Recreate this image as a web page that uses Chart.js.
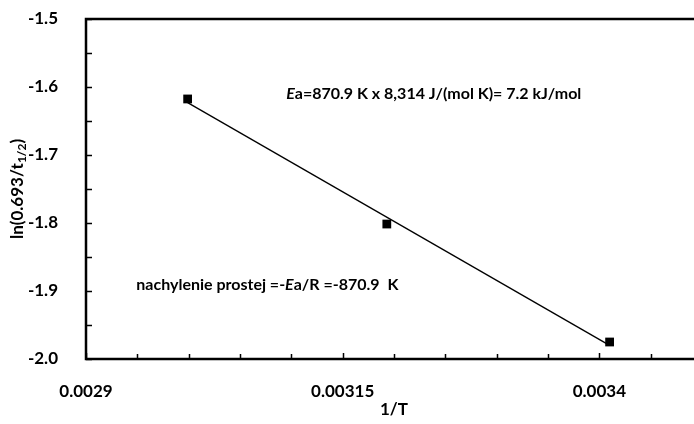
<!DOCTYPE html>
<html>
<head>
<meta charset="utf-8">
<script src="https://cdn.jsdelivr.net/npm/chart.js@4"></script>
<style>
  html, body { margin: 0; padding: 0; background: #fff; overflow: hidden; }
  #wrap { width: 712px; height: 424px; }
</style>
</head>
<body>
<div id="wrap"><canvas id="chart-arrhenius"></canvas></div>
<script>
// punkty pomiarowe: 1/T oraz ln(0.693/t1/2)
var invT = [0.002999, 0.003193, 0.003410];
var lnK = [-1.6176, -1.8015, -1.975];
// linia trendu
var trendX = [0.002999, 0.003410];
var trendY = [-1.623, -1.980];
var xTickLabels = ['0.0029', '0.00315', '0.0034'];
var yTickLabels = ['-1.5', '-1.6', '-1.7', '-1.8', '-1.9', '-2.0'];
var xTitle = '1/T';
var yTitle = ['ln(0.693/t', '1/2', ')'];
// adnotacje: [x, y] w jednostkach danych, tekst przed/po kursywie
var note1 = { x: 0.003095, y: -1.610, before: '', italic: 'E', after: 'a=870.9 K x 8,314 J/(mol K)= 7.2 kJ/mol' };
var note2 = { x: 0.002949, y: -1.891, before: 'nachylenie prostej =-', italic: 'E', after: 'a/R =-870.9  K' };

var FONT = 'Lato, "Open Sans", sans-serif';

function pairs(xs, ys) {
    return xs.map(function(x, i) { return { x: x, y: ys[i] }; });
}

function findLabel(list, v) {
    var l = list.filter(function(s) { return Math.abs(parseFloat(s) - v) < 1e-9; });
    return l.length ? l[0] : '';
}

function drawNote(ctx, n, sx, sy) {
    var px = sx.getPixelForValue(n.x), py = sy.getPixelForValue(n.y);
    ctx.save();
    ctx.fillStyle = '#000';
    ctx.textBaseline = 'middle';
    ctx.textAlign = 'left';
    ctx.font = 'bold 16px ' + FONT;
    ctx.fillText(n.before, px, py);
    px += ctx.measureText(n.before).width;
    ctx.font = 'italic bold 16px ' + FONT;
    ctx.fillText(n.italic, px, py);
    px += ctx.measureText(n.italic).width;
    ctx.font = 'bold 16px ' + FONT;
    ctx.fillText(n.after, px, py);
    ctx.restore();
}

var frame = {
    id: 'frame',
    afterDraw: function(chart) {
        var ctx = chart.ctx, a = chart.chartArea;
        var sx = chart.scales.x, sy = chart.scales.y;
        ctx.save();
        ctx.strokeStyle = '#000';
        ctx.lineWidth = 2.5;
        ctx.beginPath();
        ctx.moveTo(a.right, a.top);
        ctx.lineTo(a.left, a.top);
        ctx.lineTo(a.left, a.bottom);
        ctx.lineTo(a.right, a.bottom);
        ctx.stroke();

        // znaczniki osi (do wewnatrz)
        ctx.lineWidth = 1.5;
        ctx.beginPath();
        sx.ticks.forEach(function(t) {
            var p = Math.round(sx.getPixelForValue(t.value)) + 0.5;
            var big = findLabel(xTickLabels, t.value) !== '';
            ctx.moveTo(p, a.bottom);
            ctx.lineTo(p, a.bottom - (big ? 6 : 5));
        });
        sy.ticks.forEach(function(t) {
            var p = Math.round(sy.getPixelForValue(t.value)) + 0.5;
            ctx.moveTo(a.left, p);
            ctx.lineTo(a.left + 6, p);
        });
        ctx.stroke();

        // tytul osi X
        ctx.fillStyle = '#000';
        ctx.font = 'bold 17px ' + FONT;
        ctx.textAlign = 'center';
        ctx.textBaseline = 'middle';
        ctx.fillText(xTitle, (a.left + a.right) / 2, 410);

        // tytul osi Y z indeksem dolnym
        ctx.translate(18, (a.top + a.bottom) / 2);
        ctx.rotate(-Math.PI / 2);
        ctx.textAlign = 'left';
        var fMain = 'bold 17px ' + FONT, fSub = 'bold 12px ' + FONT;
        ctx.font = fMain;
        var w0 = ctx.measureText(yTitle[0]).width, w2 = ctx.measureText(yTitle[2]).width;
        ctx.font = fSub;
        var w1 = ctx.measureText(yTitle[1]).width;
        var x0 = -(w0 + w1 + w2) / 2;
        ctx.font = fMain;
        ctx.fillText(yTitle[0], x0, 0);
        ctx.font = fSub;
        ctx.fillText(yTitle[1], x0 + w0, 4);
        ctx.font = fMain;
        ctx.fillText(yTitle[2], x0 + w0 + w1, 0);
        ctx.restore();

        drawNote(ctx, note1, sx, sy);
        drawNote(ctx, note2, sx, sy);
    }
};

document.addEventListener('DOMContentLoaded', function() {
    var canvas = document.getElementById('chart-arrhenius');

    new Chart(canvas, {
        type: 'scatter',
        data: {
            datasets: [{
                label: 'pomiary',
                data: pairs(invT, lnK),
                pointStyle: 'rect',
                pointRadius: 6.2,
                pointHoverRadius: 6.2,
                backgroundColor: '#000',
                borderColor: '#000',
                borderWidth: 0,
                order: 1
            }, {
                label: 'trend',
                type: 'line',
                data: pairs(trendX, trendY),
                borderColor: '#000',
                borderWidth: 1.3,
                pointRadius: 0,
                fill: false,
                order: 2
            }]
        },
        options: {
            responsive: true,
            maintainAspectRatio: false,
            animation: false,
            layout: { padding: { top: 19, right: 10, left: 0, bottom: 0 } },
            plugins: { legend: { display: false }, tooltip: { enabled: false } },
            scales: {
                x: {
                    type: 'linear',
                    min: 0.0029,
                    max: 0.0035,
                    afterFit: function(s) { s.height = 65; s.paddingLeft = 0; s.paddingRight = 0; },
                    grid: { display: false },
                    border: { display: false },
                    ticks: {
                        stepSize: 0.00005,
                        padding: 14,
                        maxRotation: 0,
                        autoSkip: false,
                        color: '#000',
                        font: { family: FONT, size: 17, weight: 'bold' },
                        callback: function(v) { return findLabel(xTickLabels, v); }
                    }
                },
                y: {
                    min: -2.0,
                    max: -1.5,
                    afterFit: function(s) { s.width = 86; s.paddingTop = 0; s.paddingBottom = 0; },
                    grid: { display: false },
                    border: { display: false },
                    ticks: {
                        stepSize: 0.05,
                        padding: 20,
                        autoSkip: false,
                        color: '#000',
                        font: { family: FONT, size: 17, weight: 'bold' },
                        callback: function(v) { return findLabel(yTickLabels, v); }
                    }
                }
            }
        },
        plugins: [frame]
    });
});
</script>
</body>
</html>
